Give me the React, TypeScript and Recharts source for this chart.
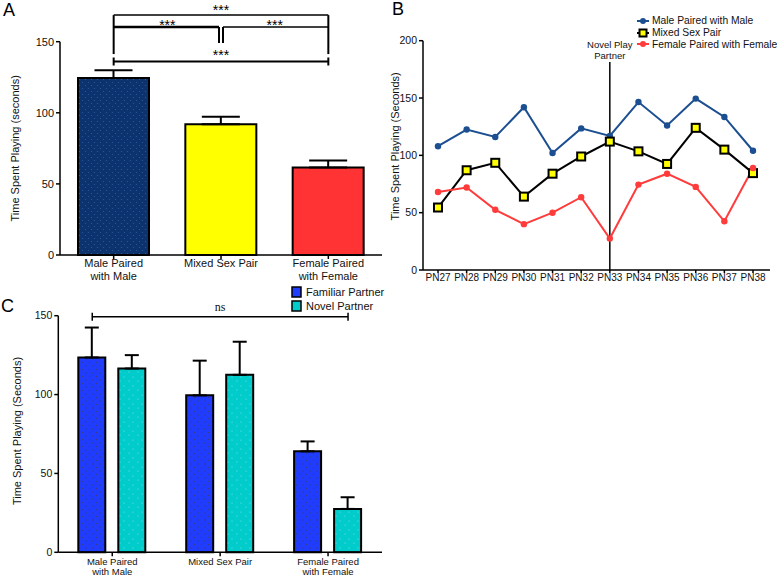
import React from "react";
import {
  BarChart,
  Bar,
  Cell,
  LineChart,
  Line,
  XAxis,
  YAxis,
  ErrorBar,
  ReferenceLine,
  Legend,
  Label,
} from "recharts";

// shared categories
const pairGroups = ["Male Paired\nwith Male", "Mixed Sex Pair", "Female Paired\nwith Female"];

// panel A
const pairMeans = [124.5, 92, 61.5];
const pairSem = [5.5, 5.3, 5];
const pairFills = ["url(#dotNavy)", "#ffff00", "#ff3333"];
const ticksA = [0, 50, 100, 150];

// panel B
const days = ["PN27", "PN28", "PN29", "PN30", "PN31", "PN32", "PN33", "PN34", "PN35", "PN36", "PN37", "PN38"];
const maleMale = [108, 122.5, 116, 142, 102, 123.5, 117, 146.5, 126, 149.5, 133.5, 104];
const mixedSex = [54.5, 87, 93.5, 64, 84, 99, 112, 103.5, 92.5, 124, 105, 84.5];
const femaleFemale = [68, 72, 52.5, 40, 50, 63.5, 27.5, 74.5, 84, 72.5, 42.5, 89];
const lineOrder = ["maleMale", "mixedSex", "femaleFemale"];
const ticksB = [0, 50, 100, 150, 200];

// panel C
const familiarMeans = [123.5, 99.5, 64];
const familiarSem = [19, 22, 6.3];
const novelMeans = [116.5, 112.5, 27.5];
const novelSem = [8.5, 21, 7.4];
const barOrder = ["familiar", "novel"];

// annotation levels (data units)
const SIG_TOP = 168.7;
const SIG_MID = 160.3;
const SIG_MID_LOW = 149;
const SIG_SIDE_LOW = 141.3;
const SIG_LOW = 136;
const NOVEL_LINE_TOP = 181.4;
const NS_LEVEL = 149.4;

const dataA = pairGroups.map((name, i) => ({ name, mean: pairMeans[i], err: [0, pairSem[i]] }));
const dataB = days.map((day, i) => ({
  day,
  maleMale: maleMale[i],
  mixedSex: mixedSex[i],
  femaleFemale: femaleFemale[i],
}));
const dataC = pairGroups.map((name, i) => ({
  name,
  familiar: familiarMeans[i],
  familiarErr: [0, familiarSem[i]],
  novel: novelMeans[i],
  novelErr: [0, novelSem[i]],
}));

const C_BAR = 27;
const C_GAP = 13;

function MultiTick(props: any) {
  const { x, y, payload, fontSize, lineHeight, dy } = props;
  const lines = String(payload.value).split("\n");
  return (
    <text x={x} y={y} textAnchor="middle" fontSize={fontSize} fill="#111">
      {lines.map((l, i) => (
        <tspan key={i} x={x} dy={i === 0 ? dy : lineHeight}>
          {l}
        </tspan>
      ))}
    </text>
  );
}

const axisTitle = (text: string, x: number, fontSize: number, shift = 0) => (props: any) => {
  const { viewBox } = props;
  const cy = viewBox.y + viewBox.height / 2 + shift;
  return (
    <text
      x={x}
      y={cy}
      transform={`rotate(-90 ${x} ${cy})`}
      textAnchor="middle"
      dominantBaseline="central"
      fontSize={fontSize}
      fill="#111"
    >
      {text}
    </text>
  );
};

const shifted = (dx1: number, dx2: number, width: number) => (p: any) => (
  <line x1={p.x1 + dx1} y1={p.y1} x2={p.x2 + dx2} y2={p.y2} stroke="#000" strokeWidth={width} />
);

const bracket = (extend: number, width: number) => (p: any) => (
  <path
    d={`M${p.x1 - extend},${p.y1 - 4}V${p.y1 + 4}M${p.x1 - extend},${p.y1}H${p.x2 + extend}M${p.x2 + extend},${p.y1 - 4}V${p.y1 + 4}`}
    stroke="#000"
    strokeWidth={width}
    fill="none"
  />
);

const stars = (offset: number) => ({ value: "***", position: "top" as const, offset, fontSize: 14, fill: "#000" });

function novelLabel(props: any) {
  const { viewBox } = props;
  const x = viewBox.x;
  const y = viewBox.y;
  return (
    <text textAnchor="middle" fontSize={9.5} fill="#111">
      <tspan x={x} y={y - 14.5}>Novel Play</tspan>
      <tspan x={x} y={y - 3.5}>Partner</tspan>
    </text>
  );
}

const lineMarkers: Record<string, (c: string) => React.ReactNode> = {
  maleMale: (c) => (
    <>
      <line x1={1} y1={5} x2={13} y2={5} stroke={c} strokeWidth={2} />
      <circle cx={7} cy={5} r={3} fill={c} />
    </>
  ),
  mixedSex: () => (
    <>
      <line x1={1} y1={5} x2={13} y2={5} stroke="#000" strokeWidth={2} />
      <rect x={3.5} y={1.5} width={7} height={7} fill="#ffff00" stroke="#000" strokeWidth={2} />
    </>
  ),
  femaleFemale: (c) => (
    <>
      <line x1={1} y1={5} x2={13} y2={5} stroke={c} strokeWidth={2} />
      <circle cx={7} cy={5} r={3} fill={c} />
    </>
  ),
};

const inOrder = (items: any[], order: string[]) =>
  [...items].sort((a, b) => order.indexOf(a.dataKey) - order.indexOf(b.dataKey));

function LineLegend(props: any) {
  const items = inOrder(props.payload || [], lineOrder);
  return (
    <div style={{ fontSize: 10.3, color: "#111", width: 145 }}>
      {items.map((entry: any) => (
        <div key={entry.value} style={{ display: "flex", alignItems: "center", height: 11.7, whiteSpace: "nowrap" }}>
          <svg width={15} height={10} style={{ marginRight: 1, flex: "none" }}>
            {lineMarkers[entry.dataKey](entry.color)}
          </svg>
          <span>{entry.value}</span>
        </div>
      ))}
    </div>
  );
}

function BarLegend(props: any) {
  const items = inOrder(props.payload || [], barOrder);
  return (
    <div style={{ fontSize: 11, color: "#111", width: 100 }}>
      {items.map((entry: any) => (
        <div key={entry.value} style={{ display: "flex", alignItems: "center", height: 14, whiteSpace: "nowrap" }}>
          <svg width={11} height={12} style={{ marginRight: 4, flex: "none" }}>
            <rect
              x={1}
              y={1}
              width={9}
              height={10}
              fill={entry.dataKey === "familiar" ? "#1f3cff" : "#00cccc"}
              stroke="#000"
              strokeWidth={1.5}
            />
          </svg>
          <span>{entry.value}</span>
        </div>
      ))}
    </div>
  );
}

function SquareDot(props: any) {
  const { cx, cy } = props;
  if (cx == null || cy == null) return null;
  return <rect x={cx - 4} y={cy - 4} width={8} height={8} fill="#ffff00" stroke="#000" strokeWidth={2} />;
}

const axisStroke = { stroke: "#000", strokeWidth: 1.5 };
const panelLetter: React.CSSProperties = { position: "absolute", fontSize: 18, color: "#000", lineHeight: 1 };

export default function App() {
  return (
    <div
      style={{
        position: "absolute",
        left: 0,
        top: 0,
        width: 777,
        height: 577,
        background: "#fff",
        fontFamily: "'Liberation Sans', Arial, sans-serif",
        overflow: "hidden",
      }}
    >
      <div style={{ ...panelLetter, left: 3, top: 1 }}>A</div>
      <div style={{ ...panelLetter, left: 392, top: 0 }}>B</div>
      <div style={{ ...panelLetter, left: 1, top: 297 }}>C</div>

      {/* Panel A */}
      <div style={{ position: "absolute", left: 0, top: 0 }}>
        <BarChart width={390} height={290} data={dataA} margin={{ top: 41.7, right: 8, bottom: 5, left: 20 }}>
          <defs>
            <pattern id="dotNavy" width="6" height="6" patternUnits="userSpaceOnUse">
              <rect width="6" height="6" fill="#0c336d" />
              <circle cx="1.5" cy="1.5" r="0.6" fill="#2c5c9c" />
              <circle cx="4.5" cy="4.5" r="0.6" fill="#2c5c9c" />
            </pattern>
          </defs>
          <XAxis
            dataKey="name"
            interval={0}
            height={30}
            tickSize={4}
            axisLine={axisStroke}
            tickLine={axisStroke}
            tick={(p: any) => <MultiTick {...p} fontSize={11} lineHeight={13} dy={6} />}
          />
          <YAxis
            width={40}
            domain={[0, 150]}
            ticks={ticksA}
            tickSize={4}
            axisLine={axisStroke}
            tickLine={axisStroke}
            tick={{ fontSize: 11, fill: "#111" }}
            label={<Label content={axisTitle("Time Spent Playing (seconds)", 15, 11)} />}
          />
          <Bar dataKey="mean" barSize={71} stroke="#000" strokeWidth={2} isAnimationActive={false}>
            {dataA.map((d, i) => (
              <Cell key={d.name} fill={pairFills[i]} />
            ))}
            <ErrorBar dataKey="err" width={19} stroke="#000" strokeWidth={2} direction="y" />
          </Bar>
          <ReferenceLine
            ifOverflow="visible"
            segment={[{ x: pairGroups[0], y: SIG_TOP }, { x: pairGroups[2], y: SIG_TOP }]}
            shape={shifted(0, 0, 1.5)}
            label={stars(0)}
          />
          <ReferenceLine
            ifOverflow="visible"
            segment={[{ x: pairGroups[0], y: SIG_TOP }, { x: pairGroups[0], y: SIG_SIDE_LOW }]}
            shape={shifted(0, 0, 2)}
          />
          <ReferenceLine
            ifOverflow="visible"
            segment={[{ x: pairGroups[2], y: SIG_TOP }, { x: pairGroups[2], y: SIG_SIDE_LOW }]}
            shape={shifted(0, 0, 2)}
          />
          <ReferenceLine
            ifOverflow="visible"
            segment={[{ x: pairGroups[0], y: SIG_MID }, { x: pairGroups[1], y: SIG_MID }]}
            shape={shifted(0, -2, 2.5)}
            label={stars(-3)}
          />
          <ReferenceLine
            ifOverflow="visible"
            segment={[{ x: pairGroups[1], y: SIG_MID }, { x: pairGroups[2], y: SIG_MID }]}
            shape={shifted(2, 0, 1.5)}
            label={stars(-3)}
          />
          <ReferenceLine
            ifOverflow="visible"
            segment={[{ x: pairGroups[1], y: SIG_MID }, { x: pairGroups[1], y: SIG_MID_LOW }]}
            shape={shifted(-2, -2, 2)}
          />
          <ReferenceLine
            ifOverflow="visible"
            segment={[{ x: pairGroups[1], y: SIG_MID }, { x: pairGroups[1], y: SIG_MID_LOW }]}
            shape={shifted(2, 2, 2)}
          />
          <ReferenceLine
            ifOverflow="visible"
            segment={[{ x: pairGroups[0], y: SIG_LOW }, { x: pairGroups[2], y: SIG_LOW }]}
            shape={bracket(0, 2)}
            label={stars(2)}
          />
        </BarChart>
      </div>

      {/* Panel B */}
      <div style={{ position: "absolute", left: 380, top: 0 }}>
        <LineChart width={397} height={290} data={dataB} margin={{ top: 40.7, right: 7, bottom: 2, left: 8 }}>
          <XAxis
            dataKey="day"
            interval={0}
            height={18}
            padding={{ left: 15, right: 17 }}
            tickSize={3}
            tickMargin={1}
            axisLine={axisStroke}
            tickLine={axisStroke}
            tick={{ fontSize: 10, fill: "#111" }}
          />
          <YAxis
            width={35}
            domain={[0, 200]}
            ticks={ticksB}
            tickSize={4}
            axisLine={axisStroke}
            tickLine={axisStroke}
            tick={{ fontSize: 10.5, fill: "#111" }}
            label={<Label content={axisTitle("Time Spent Playing (Seconds)", 15, 11, -9)} />}
          />
          <Legend
            layout="horizontal"
            verticalAlign="middle"
            align="center"
            content={LineLegend}
            wrapperStyle={{ top: 15, left: 256, width: 145 }}
          />
          <ReferenceLine
            ifOverflow="visible"
            segment={[{ x: "PN33", y: 0 }, { x: "PN33", y: NOVEL_LINE_TOP }]}
            stroke="#000"
            strokeWidth={1.5}
            label={<Label content={novelLabel} />}
          />
          <Line
            name="Male Paired with Male"
            dataKey="maleMale"
            stroke="#1b4f91"
            strokeWidth={2}
            dot={{ r: 3.2, fill: "#1b4f91", stroke: "#1b4f91", strokeWidth: 0 }}
            isAnimationActive={false}
          />
          <Line
            name="Mixed Sex Pair"
            dataKey="mixedSex"
            stroke="#000"
            strokeWidth={2}
            dot={<SquareDot />}
            isAnimationActive={false}
          />
          <Line
            name="Female Paired with Female"
            dataKey="femaleFemale"
            stroke="#ff3b3b"
            strokeWidth={2}
            dot={{ r: 3.2, fill: "#ff3b3b", stroke: "#ff3b3b", strokeWidth: 0 }}
            isAnimationActive={false}
          />
        </LineChart>
      </div>

      {/* Panel C */}
      <div style={{ position: "absolute", left: 0, top: 280 }}>
        <BarChart
          width={390}
          height={297}
          data={dataC}
          barGap={C_GAP}
          margin={{ top: 35.7, right: 8, bottom: 0.7, left: 18.3 }}
        >
          <defs>
            <pattern id="dotBlue" width="7" height="7" patternUnits="userSpaceOnUse">
              <rect width="7" height="7" fill="#1f3cff" />
              <circle cx="2" cy="2" r="0.7" fill="#3b3b80" />
              <circle cx="5.5" cy="5.5" r="0.7" fill="#3b3b80" />
            </pattern>
            <pattern id="dotCyan" width="9" height="9" patternUnits="userSpaceOnUse">
              <rect width="9" height="9" fill="#00cccc" />
              <circle cx="3" cy="2" r="0.6" fill="#8fdede" />
              <circle cx="7" cy="7" r="0.6" fill="#8fdede" />
            </pattern>
          </defs>
          <XAxis
            dataKey="name"
            interval={0}
            height={24}
            tickSize={4}
            axisLine={axisStroke}
            tickLine={axisStroke}
            tick={(p: any) => <MultiTick {...p} fontSize={9.5} lineHeight={10} dy={7} />}
          />
          <YAxis
            width={40}
            domain={[0, 150]}
            ticks={ticksA}
            tickSize={4}
            axisLine={axisStroke}
            tickLine={axisStroke}
            tick={{ fontSize: 10.5, fill: "#111" }}
            label={<Label content={axisTitle("Time Spent Playing (Seconds)", 17, 11, -3)} />}
          />
          <Legend
            layout="horizontal"
            verticalAlign="middle"
            align="center"
            content={BarLegend}
            wrapperStyle={{ top: 5, left: 291, width: 100 }}
          />
          <Bar
            name="Familiar Partner"
            dataKey="familiar"
            barSize={C_BAR}
            fill="url(#dotBlue)"
            stroke="#000"
            strokeWidth={2}
            isAnimationActive={false}
          >
            <ErrorBar dataKey="familiarErr" width={7} stroke="#000" strokeWidth={2} direction="y" />
          </Bar>
          <Bar
            name="Novel Partner"
            dataKey="novel"
            barSize={C_BAR}
            fill="url(#dotCyan)"
            stroke="#000"
            strokeWidth={2}
            isAnimationActive={false}
          >
            <ErrorBar dataKey="novelErr" width={7} stroke="#000" strokeWidth={2} direction="y" />
          </Bar>
          <ReferenceLine
            ifOverflow="visible"
            segment={[{ x: pairGroups[0], y: NS_LEVEL }, { x: pairGroups[2], y: NS_LEVEL }]}
            shape={bracket((C_BAR + C_GAP) / 2, 1.5)}
            label={{ value: "ns", position: "top", offset: 6, fontSize: 12, fill: "#111", fontFamily: "'Liberation Serif', serif" }}
          />
        </BarChart>
      </div>
    </div>
  );
}
